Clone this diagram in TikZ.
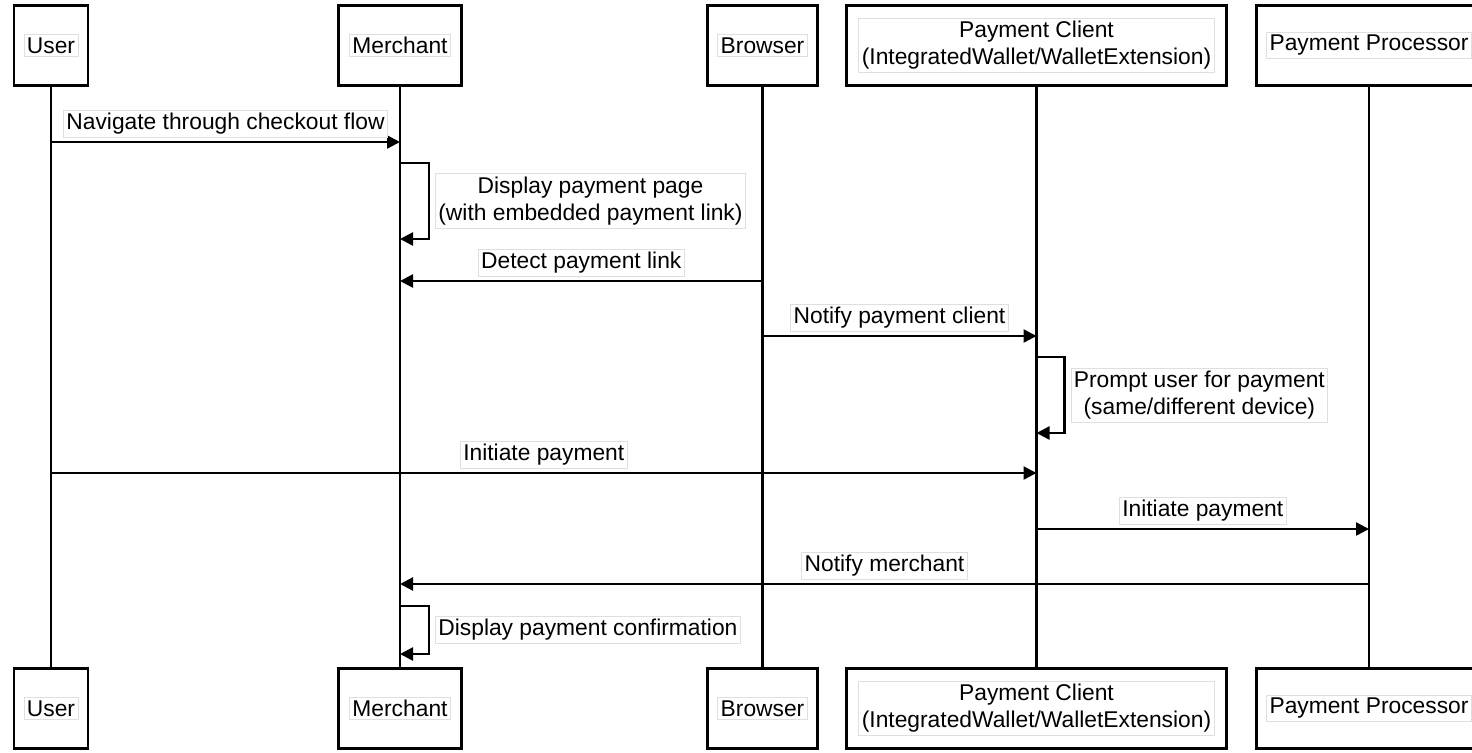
\documentclass[tikz,border=0pt]{standalone}
\usepackage{fontspec}
\setmainfont{Liberation Sans}
\usetikzlibrary{arrows.meta,positioning}

\begin{document}
\begin{tikzpicture}
[x=0.5pt, y=-0.5pt,
every node/.style={font=\fontsize{11.4}{13.5}\selectfont},
actor/.style={draw, line width=1.4pt, fill=white, minimum height=40pt, inner sep=0pt},
lbl/.style={draw=gray!25, line width=0.4pt, fill=white, inner xsep=1.5pt, inner ysep=1.5pt, align=center},
life/.style={draw, line width=1.2pt},
msg/.style={draw, line width=1.2pt, -{Triangle[length=6.5pt,width=6.5pt]}}]
\clip (0,0) rectangle (1472,752);

% participants, top and bottom
\node[actor, minimum width=37pt, label={[lbl]center:User}] (usrT) at (51,45.5) {};
\node[actor, minimum width=61.7pt, label={[lbl]center:Merchant}] (merT) at (400,45.5) {};
\node[actor, minimum width=55pt, label={[lbl]center:Browser}] (brwT) at (762.5,45.5) {};
\node[actor, minimum width=190pt, label={[lbl]center:Payment Client\\(IntegratedWallet/WalletExtension)}] (pclT) at (1036.5,45.5) {};
\node[actor, minimum width=112.7pt, label={[lbl]center:Payment Processor}] (pprT) at (1369,45.5) {};

\node[actor, minimum width=37pt, label={[lbl]center:User}] (usrB) at (51,708.5) {};
\node[actor, minimum width=61.7pt, label={[lbl]center:Merchant}] (merB) at (400,708.5) {};
\node[actor, minimum width=55pt, label={[lbl]center:Browser}] (brwB) at (762.5,708.5) {};
\node[actor, minimum width=190pt, label={[lbl]center:Payment Client\\(IntegratedWallet/WalletExtension)}] (pclB) at (1036.5,708.5) {};
\node[actor, minimum width=112.7pt, label={[lbl]center:Payment Processor}] (pprB) at (1369,708.5) {};

% lifelines
\draw[life] (usrT.south) -- (usrB.north);
\draw[life] (merT.south) -- (merB.north);
\draw[life] (brwT.south) -- (brwB.north);
\draw[life] (pclT.south) -- (pclB.north);
\draw[life] (pprT.south) -- (pprB.north);

% messages
\draw[msg] (usrT |- 0,142) -- node[lbl, above=2pt] {Navigate through checkout flow} (merT |- 0,142);
\draw[msg] (merT |- 0,163) -- ++(29,0) |- node[lbl, pos=0.25, right=3pt] {Display payment page\\(with embedded payment link)} (merT |- 0,239);
\draw[msg] (brwT |- 0,281) -- node[lbl, above=2pt] {Detect payment link} (merT |- 0,281);
\draw[msg] (brwT |- 0,336) -- node[lbl, above=2pt] {Notify payment client} (pclT |- 0,336);
\draw[msg] (pclT |- 0,357) -- ++(28,0) |- node[lbl, pos=0.25, right=3pt] {Prompt user for payment\\(same/different device)} (pclT |- 0,433);
\draw[msg] (usrT |- 0,473) -- node[lbl, above=2pt] {Initiate payment} (pclT |- 0,473);
\draw[msg] (pclT |- 0,529) -- node[lbl, above=2pt] {Initiate payment} (pprT |- 0,529);
\draw[msg] (pprT |- 0,584) -- node[lbl, above=2pt] {Notify merchant} (merT |- 0,584);
\draw[msg] (merT |- 0,606) -- ++(29,0) |- node[lbl, pos=0.25, right=3pt] {Display payment confirmation} (merT |- 0,654);
\end{tikzpicture}
\end{document}
